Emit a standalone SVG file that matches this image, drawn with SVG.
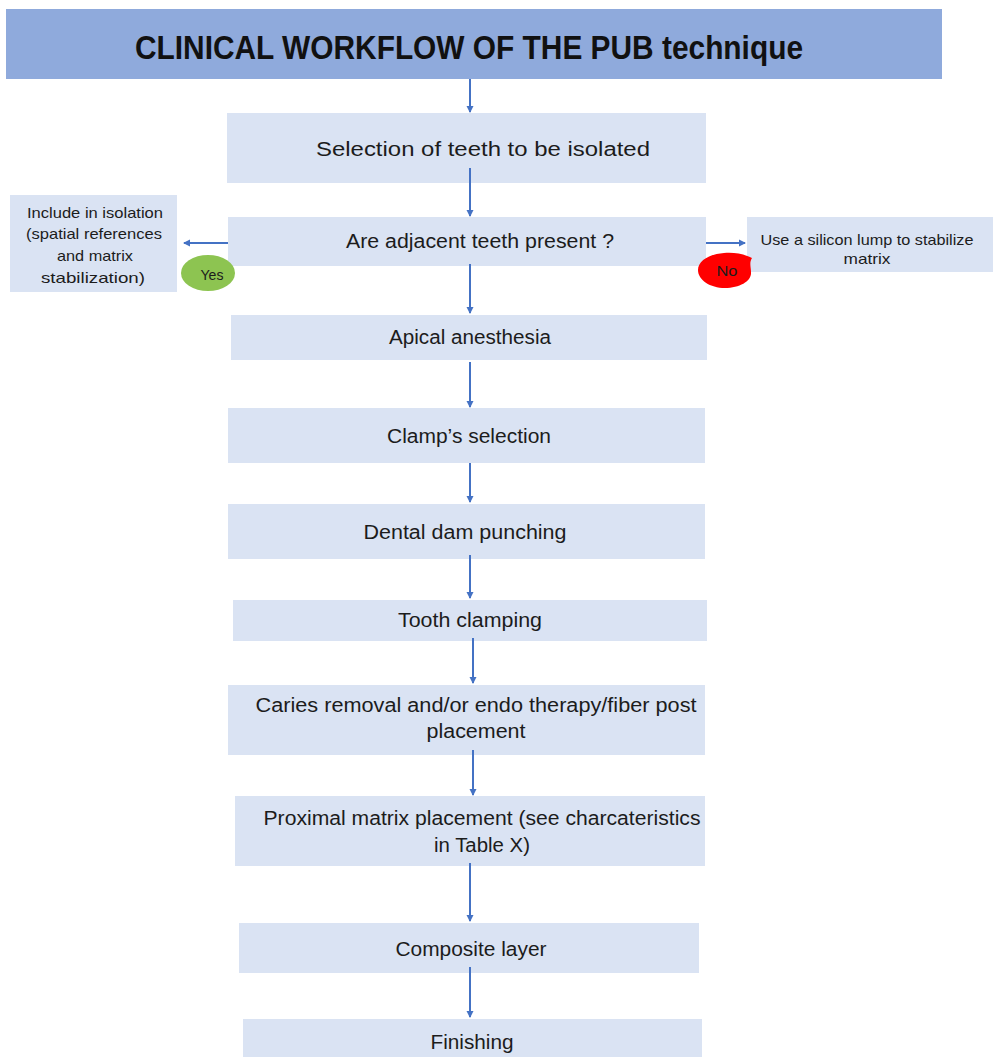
<svg xmlns="http://www.w3.org/2000/svg" width="997" height="1057" viewBox="0 0 997 1057">
<defs>
<marker id="ah" markerWidth="8" markerHeight="8" refX="6" refY="4" orient="auto" markerUnits="userSpaceOnUse">
<path d="M0,0.5 L7,4 L0,7.5 Z" fill="#4472c4"/>
</marker>
<style>
.box{fill:#dae3f3}
.t{font-family:"Liberation Sans",Arial,sans-serif;font-size:20px;fill:#1c1c1c;text-anchor:middle}
.s{font-family:"Liberation Sans",Arial,sans-serif;font-size:15px;fill:#1c1c1c;text-anchor:middle}
.c{stroke:#4472c4;stroke-width:2;fill:none;marker-end:url(#ah)}
</style>
</defs>
<rect width="997" height="1057" fill="#ffffff"/>

<g id="title">
<rect x="6" y="9" width="936" height="70" fill="#8faadc"/>
<text x="469" y="59" font-family="'Liberation Sans',Arial,sans-serif" font-size="33" font-weight="bold" fill="#111" text-anchor="middle" textLength="668" lengthAdjust="spacingAndGlyphs">CLINICAL WORKFLOW OF THE PUB technique</text>
</g>

<g id="n-selection">
<rect class="box" x="227" y="113" width="479" height="70"/>
<text class="t" x="483" y="156" textLength="334" lengthAdjust="spacingAndGlyphs">Selection of teeth to be isolated</text>
</g>

<g id="n-adjacent">
<rect class="box" x="228" y="217" width="478" height="49"/>
<text class="t" x="480" y="248" textLength="268" lengthAdjust="spacingAndGlyphs">Are adjacent teeth present ?</text>
</g>

<g id="n-include">
<rect class="box" x="10" y="195" width="167" height="97"/>
<text class="s" x="95" y="218" textLength="136" lengthAdjust="spacingAndGlyphs">Include in isolation</text>
<text class="s" x="94" y="239" textLength="136" lengthAdjust="spacingAndGlyphs">(spatial references</text>
<text class="s" x="95" y="261" textLength="76" lengthAdjust="spacingAndGlyphs">and matrix</text>
<text class="s" x="93" y="283" textLength="104" lengthAdjust="spacingAndGlyphs">stabilization)</text>
</g>

<g id="n-silicon">
<rect class="box" x="747" y="217" width="246" height="55"/>
<text class="s" x="867" y="245" textLength="213" lengthAdjust="spacingAndGlyphs">Use a silicon lump to stabilize</text>
<text class="s" x="867" y="264" textLength="47" lengthAdjust="spacingAndGlyphs">matrix</text>
</g>

<g id="n-yes">
<ellipse cx="208" cy="273" rx="27" ry="18" fill="#8dc451"/>
<text class="s" x="212" y="280" textLength="23" lengthAdjust="spacingAndGlyphs">Yes</text>
</g>

<g id="n-no">
<path d="M752,258 C744,254 734,252 724,253 C709,254 698,261 698,270 C698,280 710,288 725,288 C740,288 752,281 751,272 C751,267 749,263 752,258 Z" fill="#ff0000"/>
<text class="s" x="727" y="276" textLength="21" lengthAdjust="spacingAndGlyphs">No</text>
</g>

<g id="n-apical">
<rect class="box" x="231" y="315" width="476" height="45"/>
<text class="t" x="470" y="344" textLength="162" lengthAdjust="spacingAndGlyphs">Apical anesthesia</text>
</g>

<g id="n-clamp">
<rect class="box" x="228" y="408" width="477" height="55"/>
<text class="t" x="469" y="443" textLength="164" lengthAdjust="spacingAndGlyphs">Clamp’s selection</text>
</g>

<g id="n-dental">
<rect class="box" x="228" y="504" width="477" height="55"/>
<text class="t" x="465" y="539" textLength="203" lengthAdjust="spacingAndGlyphs">Dental dam punching</text>
</g>

<g id="n-tooth">
<rect class="box" x="233" y="600" width="474" height="41"/>
<text class="t" x="470" y="627" textLength="144" lengthAdjust="spacingAndGlyphs">Tooth clamping</text>
</g>

<g id="n-caries">
<rect class="box" x="228" y="685" width="477" height="70"/>
<text class="t" x="476" y="712" textLength="441" lengthAdjust="spacingAndGlyphs">Caries removal and/or endo therapy/fiber post</text>
<text class="t" x="476" y="738" textLength="99" lengthAdjust="spacingAndGlyphs">placement</text>
</g>

<g id="n-proximal">
<rect class="box" x="235" y="796" width="470" height="70"/>
<text class="t" x="482" y="825" textLength="437" lengthAdjust="spacingAndGlyphs">Proximal matrix placement (see charcateristics</text>
<text class="t" x="482" y="852" textLength="96" lengthAdjust="spacingAndGlyphs">in Table X)</text>
</g>

<g id="n-composite">
<rect class="box" x="239" y="923" width="460" height="50"/>
<text class="t" x="471" y="956" textLength="151" lengthAdjust="spacingAndGlyphs">Composite layer</text>
</g>

<g id="n-finishing">
<rect class="box" x="243" y="1019" width="459" height="38"/>
<text class="t" x="472" y="1049" textLength="83" lengthAdjust="spacingAndGlyphs">Finishing</text>
</g>

<g id="connectors">
<line class="c" x1="470" y1="79" x2="470" y2="112"/>
<line class="c" x1="470" y1="168" x2="470" y2="216"/>
<line class="c" x1="228" y1="243" x2="184" y2="243"/>
<line class="c" x1="706" y1="243" x2="745" y2="243"/>
<line class="c" x1="470" y1="264" x2="470" y2="313"/>
<line class="c" x1="470" y1="362" x2="470" y2="407"/>
<line class="c" x1="470" y1="463" x2="470" y2="502"/>
<line class="c" x1="470" y1="555" x2="470" y2="598"/>
<line class="c" x1="473" y1="638" x2="473" y2="683"/>
<line class="c" x1="473" y1="750" x2="473" y2="795"/>
<line class="c" x1="470" y1="863" x2="470" y2="921"/>
<line class="c" x1="470" y1="967" x2="470" y2="1017"/>
</g>
</svg>
